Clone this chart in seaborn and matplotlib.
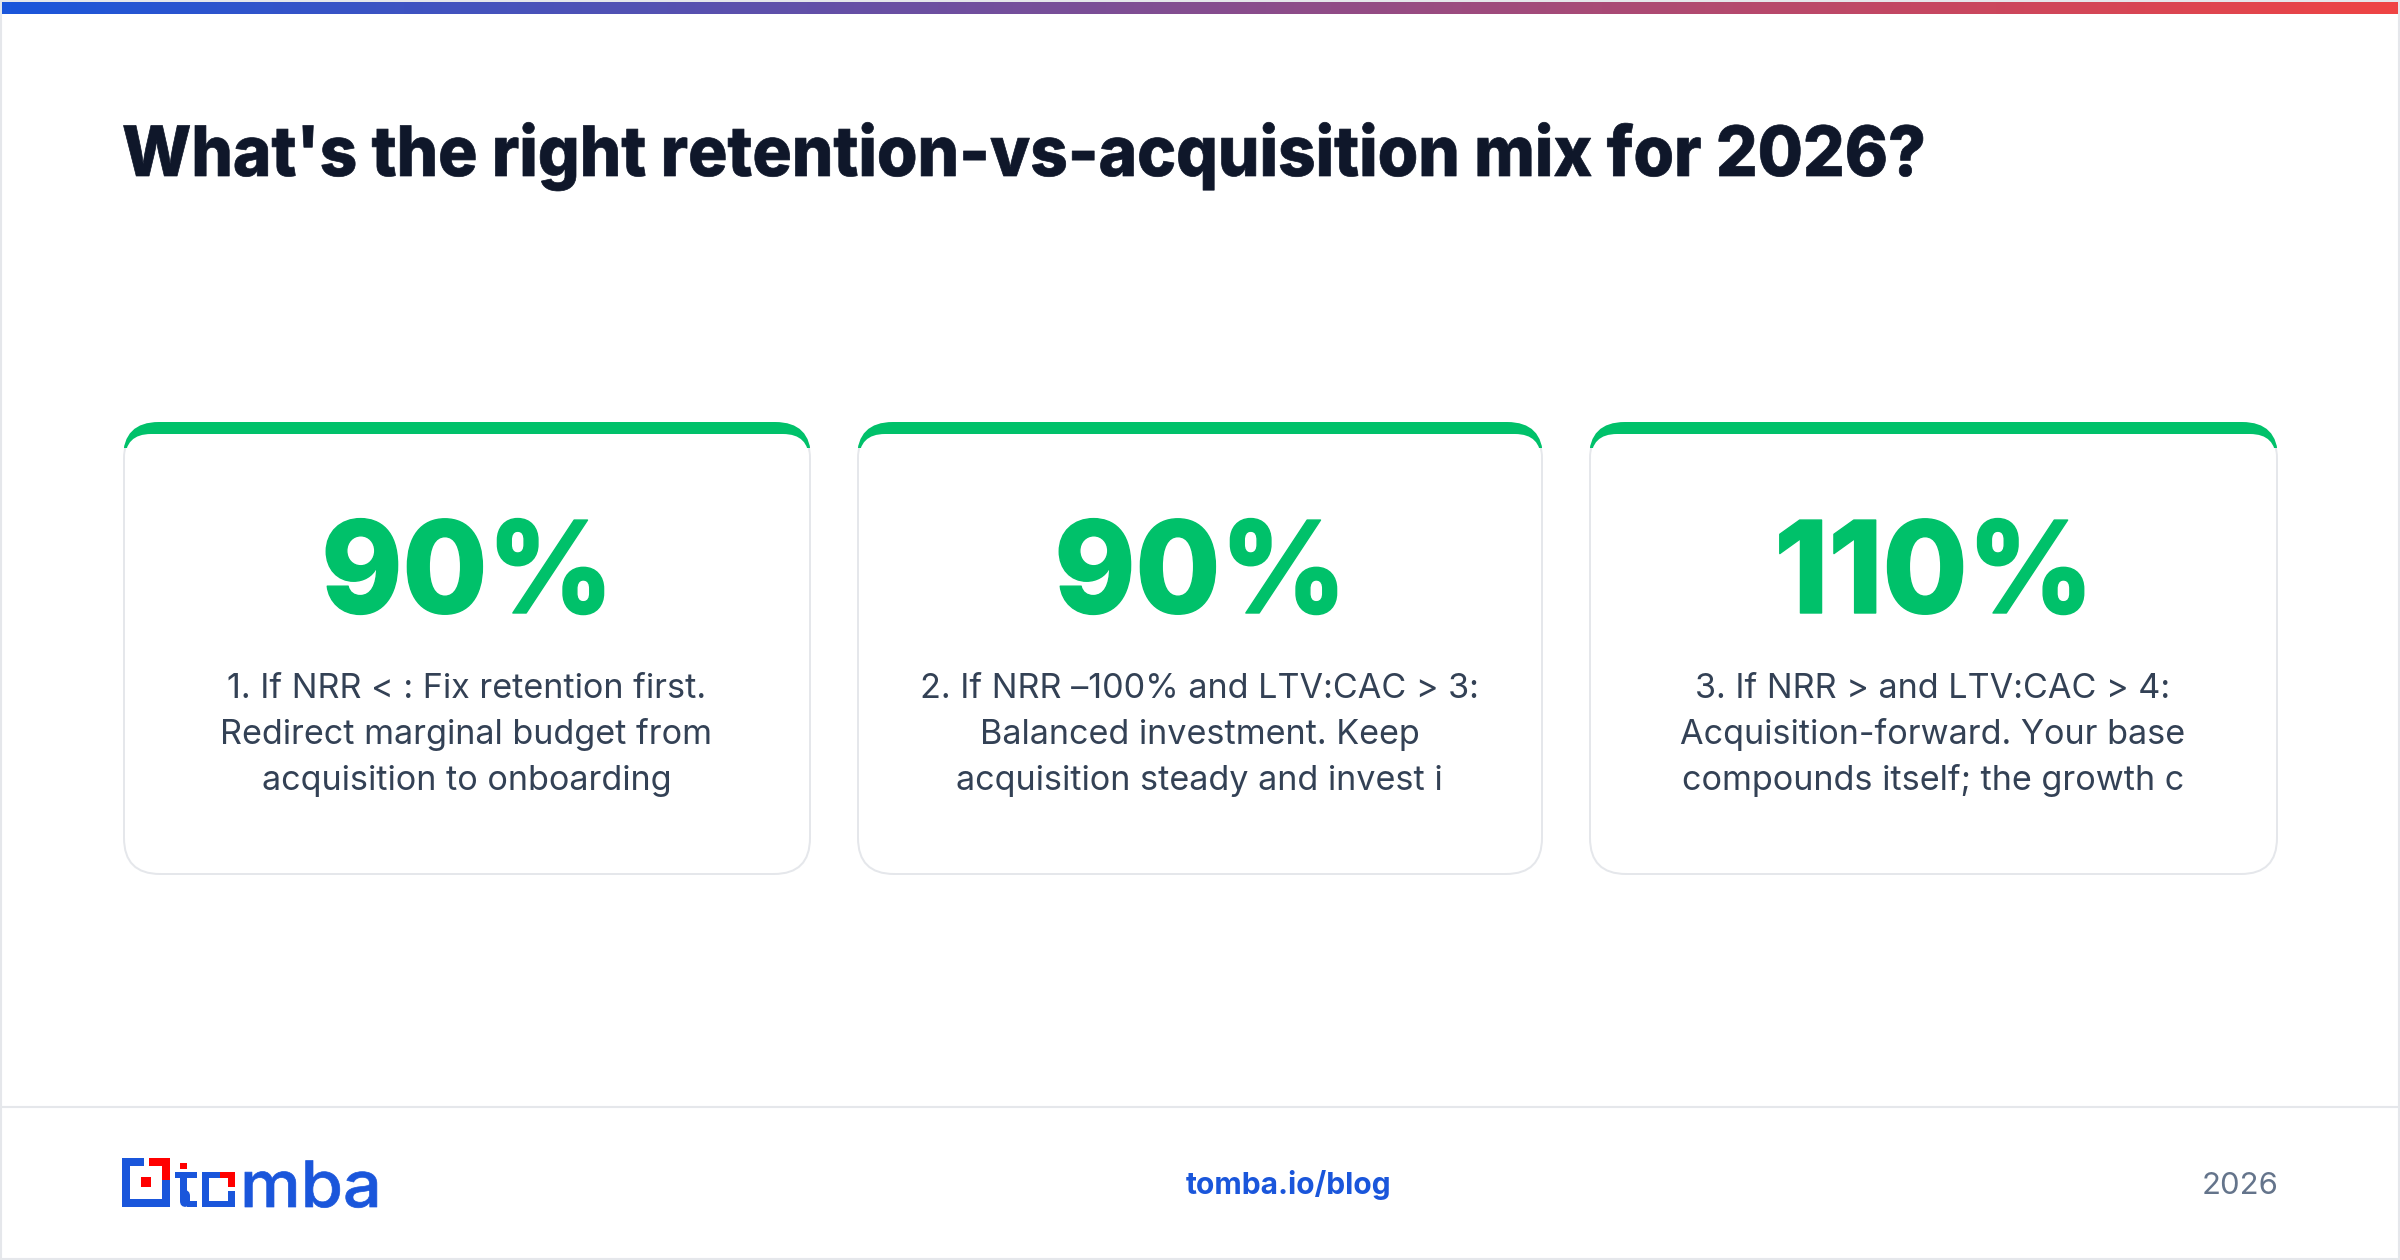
import numpy as np
import matplotlib
matplotlib.use('Agg')
import matplotlib.pyplot as plt
import matplotlib.patheffects as pe
from matplotlib.patches import FancyBboxPatch, Rectangle
from matplotlib.transforms import Affine2D
import seaborn as sns

# Card contents
title = "What's the right retention-vs-acquisition mix for 2026?"
values = ['90%', '90%', '110%']
captions = [
    ['1. If NRR < : Fix retention first.', 'Redirect marginal budget from', 'acquisition to onboarding'],
    ['2. If NRR –100% and LTV:CAC > 3:', 'Balanced investment. Keep', 'acquisition steady and invest i'],
    ['3. If NRR > and LTV:CAC > 4:', 'Acquisition-forward. Your base', 'compounds itself; the growth c'],
]
footer_link = 'tomba.io/blog'
footer_year = '2026'

card_left = [124, 858, 1590]
card_right = [810, 1542, 2277]

BLUE = '#1a56db'
RED = '#ef4444'
GREEN = '#00c16a'
DARK = '#0f172a'
BODY = '#334155'
GREY = '#64748b'
LINE = '#e5e7eb'

sns.set_theme(style='white')
plt.rcParams['font.family'] = ['Inter', 'DejaVu Sans']


# the reference uses tighter display tracking than matplotlib can do, so scale text in x
class Squeeze(pe.AbstractPathEffect):
    def __init__(self, sx, x0, stroke=0.0):
        super().__init__()
        self.sx = sx
        self.x0 = x0
        self.stroke = stroke

    def draw_path(self, renderer, gc, tpath, affine, rgbFace=None):
        squeezed = affine + Affine2D().translate(-self.x0, 0).scale(self.sx, 1).translate(self.x0, 0)
        gc2 = renderer.new_gc()
        gc2.copy_properties(gc)
        gc2.set_linewidth(self.stroke)
        gc2.set_foreground(rgbFace)
        renderer.draw_path(gc2, tpath, squeezed, rgbFace)
        gc2.restore()


fig = plt.figure(figsize=(24, 12.6), dpi=100, facecolor='white')
ax = fig.add_axes([0, 0, 1, 1])
ax.set_xlim(0, 2400)
ax.set_ylim(1260, 0)
ax.axis('off')

# page border and top gradient strip
ax.add_patch(Rectangle((1, 1), 2398, 1258, fc='white', ec=LINE, lw=1.5, zorder=0))
cmap = sns.blend_palette([BLUE, RED], n_colors=256, as_cmap=True)
ax.imshow(np.linspace(0, 1, 512).reshape(1, -1), cmap=cmap, aspect='auto',
          extent=(2, 2398, 14, 2), zorder=1)
ax.set_xlim(0, 2400)
ax.set_ylim(1260, 0)

ax.text(122, 176, title, fontsize=50, fontweight=800, color=DARK, va='baseline', ha='left',
        path_effects=[Squeeze(0.943, 122, 0.5)])


def rounded(x0, y0, x1, y1, r, **kw):
    p = FancyBboxPatch((x0, y0), x1 - x0, y1 - y0, boxstyle=f'round,pad=0,rounding_size={r}', **kw)
    ax.add_patch(p)
    return p


for i in range(3):
    l, r = card_left[i], card_right[i]
    top, bottom = 423, 874
    # soft shadow
    for grow in range(1, 16):
        rounded(l - grow, top - grow + 4, r + grow, bottom + grow + 4, 36 + grow,
                fc='#0f172a', ec='none', alpha=0.0011, zorder=2)
    rounded(l, top, r, bottom, 36, fc='white', ec=LINE, lw=1.44, zorder=3)
    # green top border tapering into the corners
    stripe = rounded(l - 1, top - 1, r + 1, bottom, 36, fc=GREEN, ec='none', zorder=4)
    stripe.set_clip_path(Rectangle((l - 5, top - 5), r - l + 10, 30, transform=ax.transData))
    rounded(l + 1, top + 11, r - 1, top + 130, 26, fc='white', ec='none', zorder=5)

    cx = (l + r) / 2 + 0.5
    ax.text(cx, 613, values[i], fontsize=92, fontweight=800, color=GREEN, ha='center', va='baseline', zorder=6,
            path_effects=[Squeeze(0.96, cx, 1.0)])
    for j, line in enumerate(captions[i]):
        ax.text(cx - 1, 698 + j * 46, line, fontsize=24.6, color=BODY, ha='center', va='baseline', zorder=6)

# footer
ax.plot([2, 2398], [1107, 1107], color=LINE, lw=1.5, zorder=1)
ax.text(1289, 1194, footer_link, fontsize=21.6, fontweight='bold', color=BLUE, ha='center', va='baseline')
ax.text(2278, 1194, footer_year, fontsize=22.3, color=GREY, ha='right', va='baseline')

# logo mark
for x, y, w, h in [(122, 1158, 22, 8), (122, 1158, 8, 49), (122, 1199, 48, 8), (162, 1180, 8, 27),
                   (180, 1172, 7, 28), (175, 1172, 22, 6), (187, 1201, 10, 6),
                   (202, 1172, 18, 6), (202, 1172, 7, 35), (202, 1201, 33, 6), (228, 1191, 7, 16)]:
    ax.add_patch(Rectangle((x, y), w, h, fc=BLUE, ec='none', zorder=3))
ax.add_patch(FancyBboxPatch((180, 1190), 10, 17, boxstyle='round,pad=0,rounding_size=6', fc=BLUE, ec='none', zorder=3))
for x, y, w, h in [(149, 1158, 21, 8), (162, 1158, 8, 22), (141, 1177, 10, 10), (180, 1163, 7, 6),
                   (220, 1172, 15, 6), (228, 1172, 7, 15)]:
    ax.add_patch(Rectangle((x, y), w, h, fc='#ff0000', ec='none', zorder=3))
ax.text(240, 1207, 'mba', fontsize=46, fontweight='medium', color=BLUE, ha='left', va='baseline',
        path_effects=[Squeeze(1.07, 240, 0.5)])

fig.savefig('out.png', dpi=100, facecolor='white')
